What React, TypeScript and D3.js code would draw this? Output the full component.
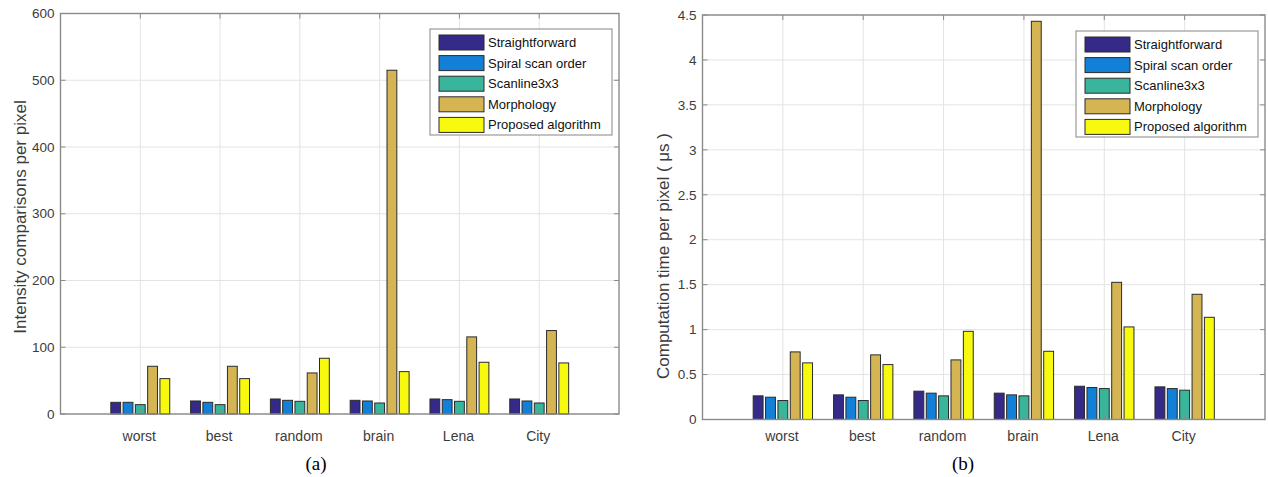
import React from 'react';
import * as d3 from 'd3';

const categories = ['worst', 'best', 'random', 'brain', 'Lena', 'City'];
const seriesNames = ['Straightforward', 'Spiral scan order', 'Scanline3x3', 'Morphology', 'Proposed algorithm'];
const seriesColors = ['#352a87', '#1380d8', '#38b59b', '#d5b553', '#f7f90f'];

// (a) intensity comparisons per pixel
const cmpStraightforward = [17.5, 19.5, 22.5, 20.5, 22.5, 22.5];
const cmpSpiral = [17.5, 17.5, 20.5, 19.5, 21.5, 19.5];
const cmpScanline = [14, 14, 19, 16.5, 19, 16.5];
const cmpMorphology = [71.5, 71.5, 61.5, 515, 115.5, 125];
const cmpProposed = [53, 53, 83.5, 63.5, 77.5, 76.5];
const cmpTicks = [0, 100, 200, 300, 400, 500, 600];

// (b) computation time per pixel, microseconds
const timeStraightforward = [0.263, 0.274, 0.315, 0.293, 0.37, 0.363];
const timeSpiral = [0.248, 0.248, 0.293, 0.274, 0.356, 0.344];
const timeScanline = [0.211, 0.211, 0.263, 0.263, 0.344, 0.326];
const timeMorphology = [0.752, 0.719, 0.663, 4.43, 1.526, 1.393];
const timeProposed = [0.63, 0.611, 0.981, 0.759, 1.03, 1.137];
const timeTicks = [0, 0.5, 1, 1.5, 2, 2.5, 3, 3.5, 4, 4.5];

const FONT = '"Liberation Sans", Arial, Helvetica, sans-serif';
const AXIS = '#8a8a8a';
const GRID = '#e3e3e3';
const TEXT = '#3c3c3c';

type PanelProps = {
  x0: number; x1: number; y0: number; y1: number;
  ticks: number[];
  values: number[][];
  yLabel: string; yLabelX: number; yLabelY: number;
  legendRight: number; legendTop: number;
  caption: string; captionX: number;
};

const BarPanel = (p: PanelProps) => {
  const n = seriesNames.length;
  const x = d3.scaleLinear().domain([0, categories.length + 1]).range([p.x0, p.x1]);
  const y = d3.scaleLinear().domain([0, p.ticks[p.ticks.length - 1]]).range([p.y1, p.y0]);
  // matlab style grouped bars
  const groupW = Math.min(0.8, n / (n + 1.5));
  const inner = d3.scaleBand<number>()
    .domain(d3.range(n))
    .range([-groupW / 2, groupW / 2])
    .paddingInner(0.2)
    .paddingOuter(0.1);
  const barW = x(inner.bandwidth()) - x(0);
  const tickLen = 5;
  const legendW = 182;
  const rowH = 20.6;
  const legendH = rowH * n + 3;
  const lx = p.legendRight - legendW;

  return (
    <g>
      {/* grid */}
      {p.ticks.map(t => (
        <line key={'gy' + t} x1={p.x0} x2={p.x1} y1={y(t)} y2={y(t)} stroke={GRID} />
      ))}
      {categories.map((c, i) => (
        <line key={'gx' + c} x1={x(i + 1)} x2={x(i + 1)} y1={p.y0} y2={p.y1} stroke={GRID} />
      ))}

      {/* bars */}
      {p.values.map((vals, s) =>
        vals.map((v, c) => (
          <rect
            key={s + '-' + c}
            x={x(c + 1 + (inner(s) as number))}
            width={barW}
            y={y(v)}
            height={y(0) - y(v)}
            fill={seriesColors[s]}
            stroke="#2b2b2b"
            strokeWidth={1}
          />
        ))
      )}

      {/* box and ticks */}
      <rect x={p.x0} y={p.y0} width={p.x1 - p.x0} height={p.y1 - p.y0} fill="none" stroke={AXIS} strokeWidth={1.4} />
      {p.ticks.map(t => (
        <g key={'ty' + t}>
          <line x1={p.x0} x2={p.x0 + tickLen} y1={y(t)} y2={y(t)} stroke={AXIS} />
          <line x1={p.x1} x2={p.x1 - tickLen} y1={y(t)} y2={y(t)} stroke={AXIS} />
          <text x={p.x0 - 6} y={y(t)} dy="0.35em" textAnchor="end" fontSize={13.5} fill={TEXT}>
            {String(t)}
          </text>
        </g>
      ))}
      {categories.map((c, i) => (
        <g key={'tx' + c}>
          <line x1={x(i + 1)} x2={x(i + 1)} y1={p.y0} y2={p.y0 + tickLen} stroke={AXIS} />
          <line x1={x(i + 1)} x2={x(i + 1)} y1={p.y1} y2={p.y1 - tickLen} stroke={AXIS} />
          <text x={x(i + 1) - 1} y={441} textAnchor="middle" fontSize={14} fill={TEXT}>
            {c}
          </text>
        </g>
      ))}

      <text
        transform={`translate(${p.yLabelX},${p.yLabelY}) rotate(-90)`}
        textAnchor="middle"
        fontSize={17}
        fill={TEXT}
      >
        {p.yLabel}
      </text>

      {/* legend */}
      <rect x={lx} y={p.legendTop} width={legendW} height={legendH} fill="#fff" stroke="#999" strokeWidth={1.2} />
      {seriesNames.map((name, s) => {
        const cy = p.legendTop + 13.5 + s * rowH;
        return (
          <g key={name}>
            <rect x={lx + 9} y={cy - 7.5} width={45} height={15} fill={seriesColors[s]} stroke="#2b2b2b" />
            <text x={lx + 58} y={cy} dy="0.35em" fontSize={13} fill="#111">
              {name}
            </text>
          </g>
        );
      })}

      <text x={p.captionX} y={470} textAnchor="middle" fontSize={19} fill="#000"
        fontFamily='"Liberation Serif", "Times New Roman", serif'>
        {p.caption}
      </text>
    </g>
  );
};

export default function App() {
  return (
    <svg
      width={1268}
      height={477}
      style={{ position: 'absolute', left: 0, top: 0, background: '#fff' }}
      fontFamily={FONT}
    >
      <BarPanel
        x0={60.5} x1={619} y0={13.5} y1={414}
        ticks={cmpTicks}
        values={[cmpStraightforward, cmpSpiral, cmpScanline, cmpMorphology, cmpProposed]}
        yLabel="Intensity comparisons per pixel"
        yLabelX={26} yLabelY={217}
        legendRight={612} legendTop={29}
        caption="(a)" captionX={316}
      />
      <BarPanel
        x0={702.5} x1={1265} y0={15} y1={419.5}
        ticks={timeTicks}
        values={[timeStraightforward, timeSpiral, timeScanline, timeMorphology, timeProposed]}
        yLabel="Computation time per pixel ( μs )"
        yLabelX={669} yLabelY={256}
        legendRight={1258} legendTop={31}
        caption="(b)" captionX={963}
      />
    </svg>
  );
}
